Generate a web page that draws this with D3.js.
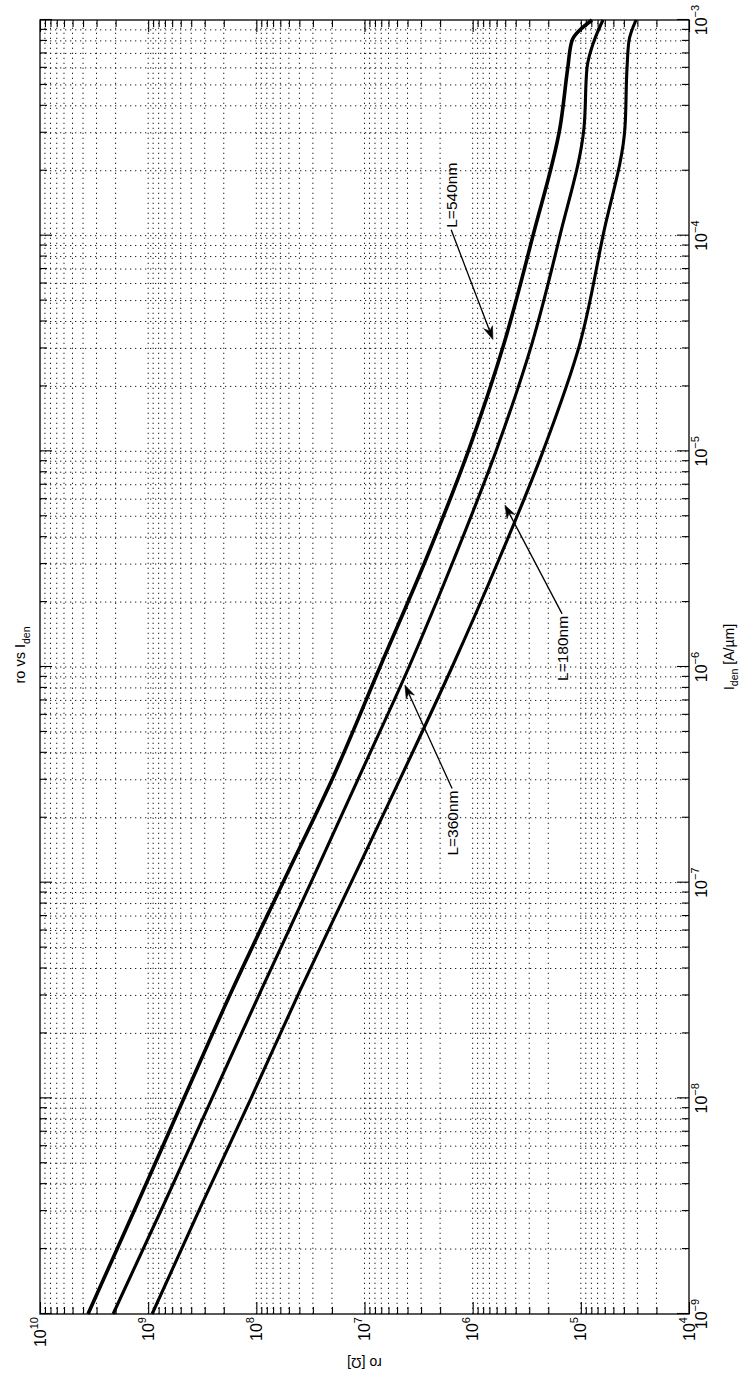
<!DOCTYPE html>
<html>
<head>
<meta charset="utf-8">
<script src="https://cdn.jsdelivr.net/npm/d3@7"></script>
<style>
  html, body { margin: 0; padding: 0; background: #fff; }
  svg { display: block; }
  text { font-family: "Liberation Sans", Arial, Helvetica, sans-serif; fill: #000; }
</style>
</head>
<body>
<svg id="chart" width="741" height="1382"></svg>
<script>
// Drain current density sweep [A/um]
const currentDensity = [1e-9, 3.16e-9, 1e-8, 3.16e-8, 1e-7, 3.16e-7, 1e-6, 3.16e-6, 1e-5, 3.16e-5, 1e-4, 3.16e-4, 6e-4, 8e-4, 1e-3];
// Output resistance ro [ohm] for each channel length
const ro540 = [3.60e9, 1.29e9, 4.67e8, 1.68e8, 5.68e7, 1.91e7, 7.19e6, 2.70e6, 1.10e6, 5.13e5, 2.77e5, 1.56e5, 1.32e5, 1.21e5, 7.89e4];
const ro360 = [2.11e9, 7.30e8, 2.57e8, 9.06e7, 3.13e7, 1.10e7, 3.88e6, 1.49e6, 6.09e5, 2.83e5, 1.56e5, 9.35e4, 8.77e4, 7.55e4, 6.24e4];
const ro180 = [9.20e8, 3.25e8, 1.12e8, 3.95e7, 1.33e7, 4.50e6, 1.55e6, 5.70e5, 2.24e5, 1.02e5, 6.24e4, 3.91e4, 3.74e4, 3.59e4, 3.09e4];

// Axis decades
const xTickExponents = [-9, -8, -7, -6, -5, -4, -3];
const yTickExponents = [4, 5, 6, 7, 8, 9, 10];

// Text-arrow annotations: label, text centre [I, ro], arrow tip [I, ro]
const annotationLabels = ["L=540nm", "L=360nm", "L=180nm"];
const annotationTextAt = [[1.54e-4, 1.58e6], [1.89e-7, 1.55e6], [1.22e-6, 1.49e5]];
const annotationTipAt = [[3.3e-5, 6.5e5], [8.24e-7, 4.23e6], [5.63e-6, 5.03e5]];

const titleText = ["ro vs I", "den"];
const xLabelText = ["I", "den", " [A/\u00b5m]"];
const yLabelText = "ro [\u03a9]";

// The figure is laid out as a portrait page: the plot is turned a quarter turn
// counter-clockwise, so the current axis runs bottom-to-top on the right side.
const boxLeft = 40, boxTop = 20, boxRight = 689, boxBottom = 1314;
const W = boxBottom - boxTop;   // length of the current axis
const H = boxRight - boxLeft;   // length of the resistance axis

const svg = d3.select("#chart");
const plot = svg.append("g").attr("transform", `translate(${boxLeft},${boxBottom}) rotate(-90)`);

const x = d3.scaleLog().domain([1e-9, 1e-3]).range([0, W]);
const y = d3.scaleLog().domain([1e4, 1e10]).range([H, 0]);

const isMajor = v => Math.abs(Math.log10(v) - Math.round(Math.log10(v))) < 1e-6;
const xAll = x.ticks();
const yAll = y.ticks();
const inner = (v, s) => v > s.domain()[0] * 1.0001 && v < s.domain()[1] / 1.0001;

// Dotted grid on every major and minor decade line
const grid = plot.append("g")
  .attr("stroke", "#1e1e1e").attr("stroke-width", 1)
  .attr("stroke-dasharray", "1.3,3.7").attr("fill", "none");
grid.selectAll("line.gx").data(xAll.filter(v => inner(v, x))).join("line")
  .attr("class", "gx")
  .attr("x1", d => x(d)).attr("x2", d => x(d)).attr("y1", 0).attr("y2", H);
grid.selectAll("line.gy").data(yAll.filter(v => inner(v, y))).join("line")
  .attr("class", "gy")
  .attr("x1", 0).attr("x2", W).attr("y1", d => y(d)).attr("y2", d => y(d));

// Inward ticks on all four sides
const majorLen = 12, minorLen = 7;
function tickAxis(axisFn, scale, values, len, tx, ty) {
  const g = plot.append("g").attr("transform", `translate(${tx},${ty})`)
    .call(axisFn(scale).tickValues(values).tickSize(len).tickFormat(""));
  g.select(".domain").remove();
  g.selectAll(".tick line").attr("stroke", "#000").attr("stroke-width", 1.1);
}
const xMajor = xAll.filter(isMajor), xMinor = xAll.filter(v => !isMajor(v));
const yMajor = yAll.filter(isMajor), yMinor = yAll.filter(v => !isMajor(v));
tickAxis(d3.axisBottom, x, xMajor, -majorLen, 0, H);
tickAxis(d3.axisBottom, x, xMinor, -minorLen, 0, H);
tickAxis(d3.axisTop, x, xMajor, -majorLen, 0, 0);
tickAxis(d3.axisTop, x, xMinor, -minorLen, 0, 0);
tickAxis(d3.axisLeft, y, yMajor, -majorLen, 0, 0);
tickAxis(d3.axisLeft, y, yMinor, -minorLen, 0, 0);
tickAxis(d3.axisRight, y, yMajor, -majorLen, W, 0);
tickAxis(d3.axisRight, y, yMinor, -minorLen, W, 0);

// Plot box
plot.append("rect").attr("x", 0).attr("y", 0).attr("width", W).attr("height", H)
  .attr("fill", "none").attr("stroke", "#000").attr("stroke-width", 1.3);

// Tick labels as powers of ten
const xLab = plot.append("g").selectAll("text").data(xTickExponents).join("text")
  .attr("x", d => x(Math.pow(10, d))).attr("y", H + 18)
  .attr("text-anchor", "middle").style("font-size", "16px");
xLab.append("tspan").text("10");
xLab.append("tspan").attr("dy", -8).style("font-size", "11px").text(d => "\u2212" + Math.abs(d));

const yLab = plot.append("g").selectAll("text").data(yTickExponents).join("text")
  .attr("x", -3).attr("y", d => y(Math.pow(10, d)) + 5.5)
  .attr("text-anchor", "end").style("font-size", "16px");
yLab.append("tspan").text("10");
yLab.append("tspan").attr("dy", -8).style("font-size", "11px").text(d => d);

// Title, axis labels
const title = plot.append("text").attr("x", 659).attr("y", -15)
  .attr("text-anchor", "middle").style("font-size", "14.5px");
title.append("tspan").text(titleText[0]);
title.append("tspan").attr("dy", 5).style("font-size", "10.5px").text(titleText[1]);

const xl = plot.append("text").attr("x", 657).attr("y", H + 45)
  .attr("text-anchor", "middle").style("font-size", "14px");
xl.append("tspan").text(xLabelText[0]);
xl.append("tspan").attr("dy", 4).style("font-size", "10.5px").text(xLabelText[1]);
xl.append("tspan").attr("dy", -4).text(xLabelText[2]);

plot.append("text")
  .attr("transform", `translate(-44,${H / 2}) rotate(-90)`)
  .attr("text-anchor", "middle").style("font-size", "14px").text(yLabelText);

// Curves
const series = [ro540, ro360, ro180];
const line = d3.line()
  .x(d => x(d[0])).y(d => y(d[1]))
  .curve(d3.curveMonotoneX);
plot.append("g").selectAll("path").data(series).join("path")
  .attr("d", s => line(currentDensity.map((c, i) => [c, s[i]])))
  .attr("fill", "none").attr("stroke", "#000")
  .attr("stroke-width", (d, i) => i === 0 ? 3.6 : 3.1)
  .attr("stroke-linejoin", "round");

// Text arrows
annotationLabels.forEach((label, i) => {
  const tx = x(annotationTextAt[i][0]), ty = y(annotationTextAt[i][1]);
  const px = x(annotationTipAt[i][0]), py = y(annotationTipAt[i][1]);
  const t = plot.append("text").attr("x", tx).attr("y", ty)
    .attr("text-anchor", "middle").attr("dominant-baseline", "central")
    .style("font-size", "15.5px").text(label);
  const w = t.node().getComputedTextLength();
  const sx = px < tx ? tx - w / 2 - 2 : tx + w / 2 + 2;
  const sy = ty;
  const ang = Math.atan2(py - sy, px - sx);
  const L = 13, hw = 4.5, notch = 9;
  const ca = Math.cos(ang), sa = Math.sin(ang);
  const pt = (a, b) => [px - a * ca - b * sa, py - a * sa + b * ca];
  plot.append("line")
    .attr("x1", sx).attr("y1", sy)
    .attr("x2", pt(notch, 0)[0]).attr("y2", pt(notch, 0)[1])
    .attr("stroke", "#000").attr("stroke-width", 1.3);
  const head = [[px, py], pt(L, hw), pt(notch, 0), pt(L, -hw)];
  plot.append("path").attr("d", "M" + head.map(p => p.join(",")).join("L") + "Z")
    .attr("fill", "#000").attr("stroke", "#000").attr("stroke-width", 0.6);
});
</script>
</body>
</html>
